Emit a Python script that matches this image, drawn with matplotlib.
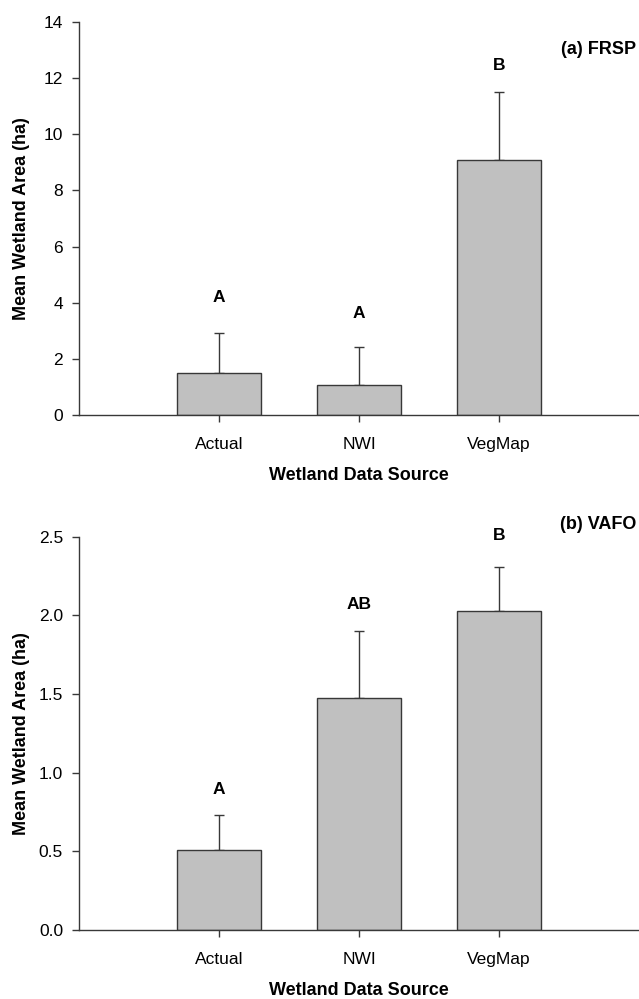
import numpy as np
import matplotlib.pyplot as plt

plt.rcParams['font.family'] = ['Liberation Sans', 'DejaVu Sans']

sources = ["Actual", "NWI", "VegMap"]

# (a) FRSP
frsp_mean = [1.49, 1.07, 9.10]
frsp_se = [1.42, 1.36, 2.40]
frsp_letters = ["A", "A", "B"]
frsp_letter_y = [4.17, 3.63, 12.44]

# (b) VAFO
vafo_mean = [0.509, 1.473, 2.030]
vafo_se = [0.220, 0.430, 0.276]
vafo_letters = ["A", "AB", "B"]
vafo_letter_y = [0.89, 2.07, 2.51]

edge = "#383838"

fig = plt.figure(figsize=(6.39, 9.99), dpi=100)
ax1 = fig.add_axes([79/639, 1 - 415/999, 1 - 79/639, (415 - 22)/999])
ax2 = fig.add_axes([79/639, 1 - 930/999, 1 - 79/639, (930 - 536.7)/999])


def panel(ax, mean, se, letters, letter_y, ymax, step, fmt, tag, tag_y):
    x = np.arange(1, len(sources) + 1)
    ax.bar(x, mean, width=0.6, color="#c0c0c0", edgecolor=edge, linewidth=1.0, zorder=2)
    ax.errorbar(x, mean, yerr=[np.zeros(len(se)), se], fmt="none", ecolor=edge,
                elinewidth=1.0, capsize=3.5, capthick=1.0, zorder=1)
    for xi, t, yi in zip(x, letters, letter_y):
        ax.text(xi, yi, t, ha="center", va="center", fontsize=12.5,
                fontweight="bold", clip_on=False)
    ax.set_xlim(0, 4)
    ax.set_ylim(0, ymax)
    ax.set_xticks(x)
    ax.set_xticklabels(sources, fontsize=12.5)
    ticks = np.arange(0, ymax + step / 2, step)
    ax.set_yticks(ticks)
    ax.set_yticklabels([fmt.format(t) for t in ticks], fontsize=12.5)
    ax.spines["top"].set_visible(False)
    ax.spines["right"].set_visible(False)
    for s in ["left", "bottom"]:
        ax.spines[s].set_color(edge)
        ax.spines[s].set_linewidth(1.0)
    ax.tick_params(axis="both", direction="out", length=5, width=1.0, color=edge)
    ax.tick_params(axis="x", pad=10.5)
    ax.tick_params(axis="y", pad=6.5)
    ax.set_xlabel("Wetland Data Source", fontsize=13, fontweight="bold")
    ax.set_ylabel("Mean Wetland Area (ha)", fontsize=13, fontweight="bold")
    ax.xaxis.set_label_coords(0.5, -0.133)
    ax.yaxis.set_label_coords(-0.087, 0.5)
    ax.text(0.995, tag_y, tag, transform=ax.transAxes, ha="right", va="center",
            fontsize=13, fontweight="bold")


panel(ax1, frsp_mean, frsp_se, frsp_letters, frsp_letter_y, 14, 2, "{:.0f}", "(a) FRSP", 0.929)
panel(ax2, vafo_mean, vafo_se, vafo_letters, vafo_letter_y, 2.5, 0.5, "{:.1f}", "(b) VAFO", 1.03)

fig.savefig("out.png", dpi=100)
